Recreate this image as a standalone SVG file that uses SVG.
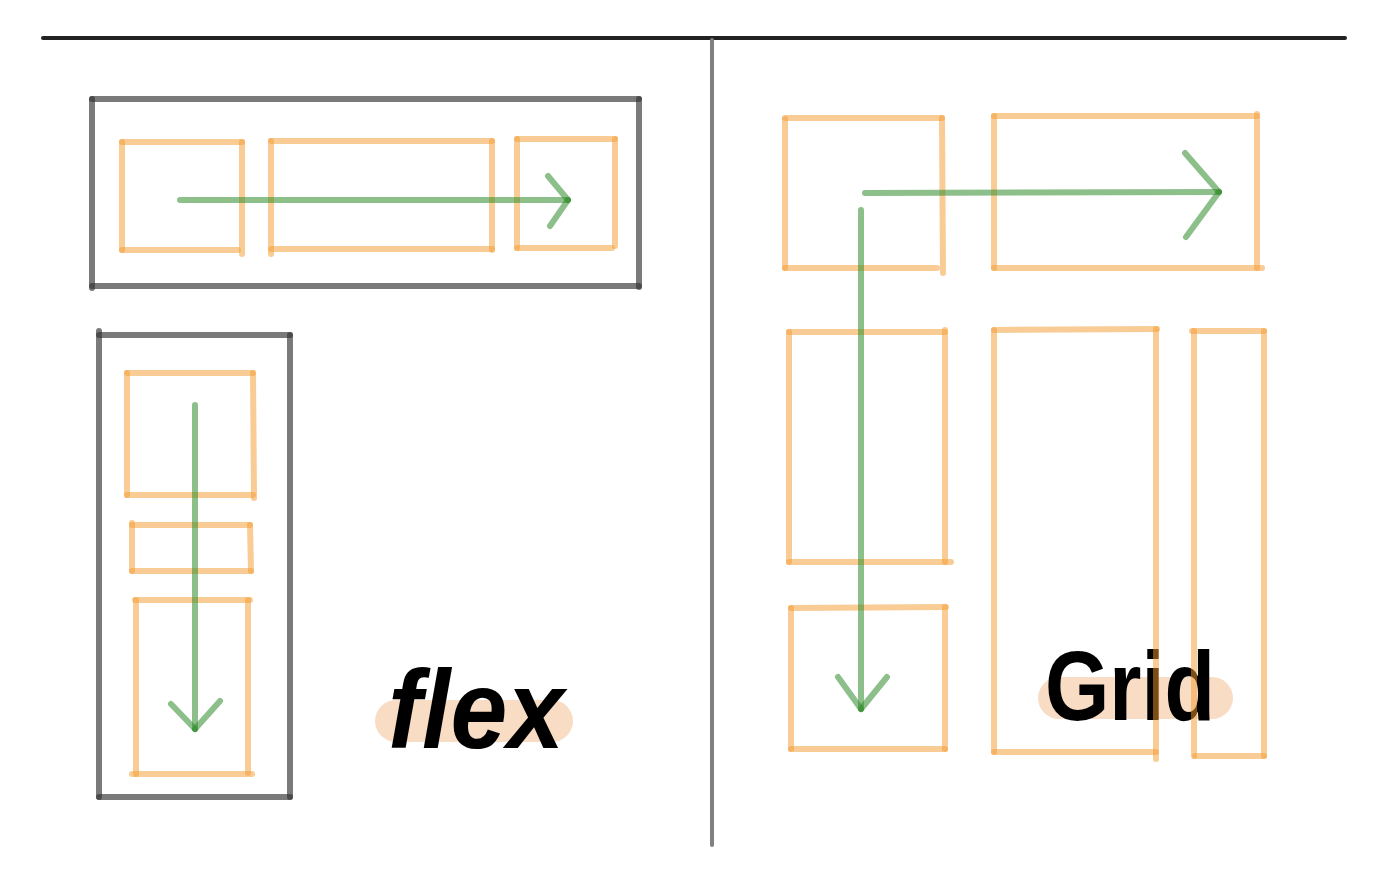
<svg xmlns="http://www.w3.org/2000/svg" width="1386" height="896" viewBox="0 0 1386 896">
<style>
line{stroke-linecap:round;fill:none}
.o{stroke:#f39a2e;stroke-opacity:0.5;stroke-width:6}
.g{stroke:#333;stroke-opacity:0.65;stroke-width:6}
.a{stroke:#2f8a2a;stroke-opacity:0.55;stroke-width:6}
.pill{fill:#f9dcc4}
.lbl{font-family:"Liberation Sans",Arial,sans-serif;font-weight:bold;fill:#000}
</style>
<rect width="1386" height="896" fill="#fff"/>
<g id="frame">
<line x1="43" y1="38" x2="1345" y2="38" stroke="#222" stroke-width="4" stroke-linecap="butt"/>
<line x1="712" y1="40" x2="712" y2="845" stroke="#808080" stroke-width="4" stroke-linecap="butt"/>
</g>
<g id="flex-row-container">
<line class="g" x1="92" y1="99" x2="639" y2="99"/>
<line class="g" x1="639" y1="99" x2="639" y2="287"/>
<line class="g" x1="92" y1="286" x2="639" y2="286"/>
<line class="g" x1="92" y1="99" x2="92" y2="288"/>
</g>
<g id="flex-row-item1">
<line class="o" x1="122" y1="142" x2="242" y2="142"/>
<line class="o" x1="242" y1="142" x2="242" y2="254"/>
<line class="o" x1="122" y1="250" x2="238" y2="250"/>
<line class="o" x1="122" y1="142" x2="122" y2="250"/>
</g>
<g id="flex-row-item2">
<line class="o" x1="271" y1="141" x2="492" y2="141"/>
<line class="o" x1="492" y1="141" x2="492" y2="250"/>
<line class="o" x1="271" y1="249" x2="492" y2="249"/>
<line class="o" x1="271" y1="141" x2="271" y2="254"/>
</g>
<g id="flex-row-item3">
<line class="o" x1="517" y1="139" x2="615" y2="139"/>
<line class="o" x1="615" y1="139" x2="615" y2="246"/>
<line class="o" x1="517" y1="248" x2="612" y2="248"/>
<line class="o" x1="517" y1="139" x2="517" y2="248"/>
</g>
<g id="flex-col-container">
<line class="g" x1="99" y1="335" x2="290" y2="335"/>
<line class="g" x1="290" y1="335" x2="290" y2="797"/>
<line class="g" x1="99" y1="797" x2="290" y2="797"/>
<line class="g" x1="99" y1="331" x2="99" y2="797"/>
</g>
<g id="flex-col-item1">
<line class="o" x1="127" y1="373" x2="253" y2="373"/>
<line class="o" x1="253" y1="373" x2="254" y2="498"/>
<line class="o" x1="127" y1="495" x2="253" y2="495"/>
<line class="o" x1="127" y1="373" x2="127" y2="495"/>
</g>
<g id="flex-col-item2">
<line class="o" x1="132" y1="525" x2="250" y2="525"/>
<line class="o" x1="250" y1="525" x2="251" y2="571"/>
<line class="o" x1="132" y1="571" x2="251" y2="571"/>
<line class="o" x1="132" y1="523" x2="132" y2="571"/>
</g>
<g id="flex-col-item3">
<line class="o" x1="135" y1="600" x2="250" y2="600"/>
<line class="o" x1="248" y1="600" x2="248" y2="773"/>
<line class="o" x1="132" y1="774" x2="252" y2="774"/>
<line class="o" x1="136" y1="600" x2="136" y2="774"/>
</g>
<g id="flex-label">
<rect class="pill" x="375" y="700" width="198" height="42" rx="21"/>
<text class="lbl" x="388" y="748" font-size="112" font-style="italic" textLength="176" lengthAdjust="spacingAndGlyphs">flex</text>
</g>
<g id="grid-label">
<rect class="pill" x="1038" y="677" width="195" height="42" rx="21"/>
<text class="lbl" x="1045" y="720" font-size="98" textLength="170" lengthAdjust="spacingAndGlyphs">Grid</text>
</g>
<g id="grid-a">
<line class="o" x1="785" y1="118" x2="942" y2="118"/>
<line class="o" x1="942" y1="118" x2="943" y2="273"/>
<line class="o" x1="785" y1="268" x2="937" y2="268"/>
<line class="o" x1="785" y1="119" x2="785" y2="268"/>
</g>
<g id="grid-b">
<line class="o" x1="994" y1="116" x2="1257" y2="116"/>
<line class="o" x1="1257" y1="114" x2="1257" y2="268"/>
<line class="o" x1="994" y1="268" x2="1262" y2="268"/>
<line class="o" x1="994" y1="116" x2="994" y2="268"/>
</g>
<g id="grid-c">
<line class="o" x1="789" y1="332" x2="945" y2="332"/>
<line class="o" x1="945" y1="330" x2="945" y2="562"/>
<line class="o" x1="789" y1="562" x2="951" y2="562"/>
<line class="o" x1="789" y1="332" x2="789" y2="562"/>
</g>
<g id="grid-d">
<line class="o" x1="994" y1="330" x2="1157" y2="329"/>
<line class="o" x1="1156" y1="329" x2="1156" y2="759"/>
<line class="o" x1="994" y1="752" x2="1156" y2="752"/>
<line class="o" x1="994" y1="330" x2="994" y2="752"/>
</g>
<g id="grid-e">
<line class="o" x1="1192" y1="331" x2="1264" y2="331"/>
<line class="o" x1="1264" y1="331" x2="1264" y2="756"/>
<line class="o" x1="1195" y1="756" x2="1264" y2="756"/>
<line class="o" x1="1194" y1="331" x2="1194" y2="756"/>
</g>
<g id="grid-f">
<line class="o" x1="791" y1="608" x2="946" y2="607"/>
<line class="o" x1="945" y1="607" x2="945" y2="749"/>
<line class="o" x1="791" y1="749" x2="945" y2="749"/>
<line class="o" x1="791" y1="608" x2="791" y2="749"/>
</g>
<g id="connectors">
<line class="a" x1="180" y1="200" x2="568" y2="200"/>
<line class="a" x1="548" y1="176" x2="568" y2="200"/>
<line class="a" x1="568" y1="200" x2="550" y2="226"/>
<line class="a" x1="195" y1="405" x2="195" y2="729"/>
<line class="a" x1="171" y1="704" x2="195" y2="729"/>
<line class="a" x1="195" y1="729" x2="220" y2="701"/>
<line class="a" x1="865" y1="193" x2="1219" y2="192"/>
<line class="a" x1="1185" y1="153" x2="1219" y2="192"/>
<line class="a" x1="1219" y1="192" x2="1186" y2="237"/>
<line class="a" x1="861" y1="210" x2="861" y2="709"/>
<line class="a" x1="838" y1="677" x2="861" y2="709"/>
<line class="a" x1="861" y1="709" x2="887" y2="677"/>
</g>
</svg>
